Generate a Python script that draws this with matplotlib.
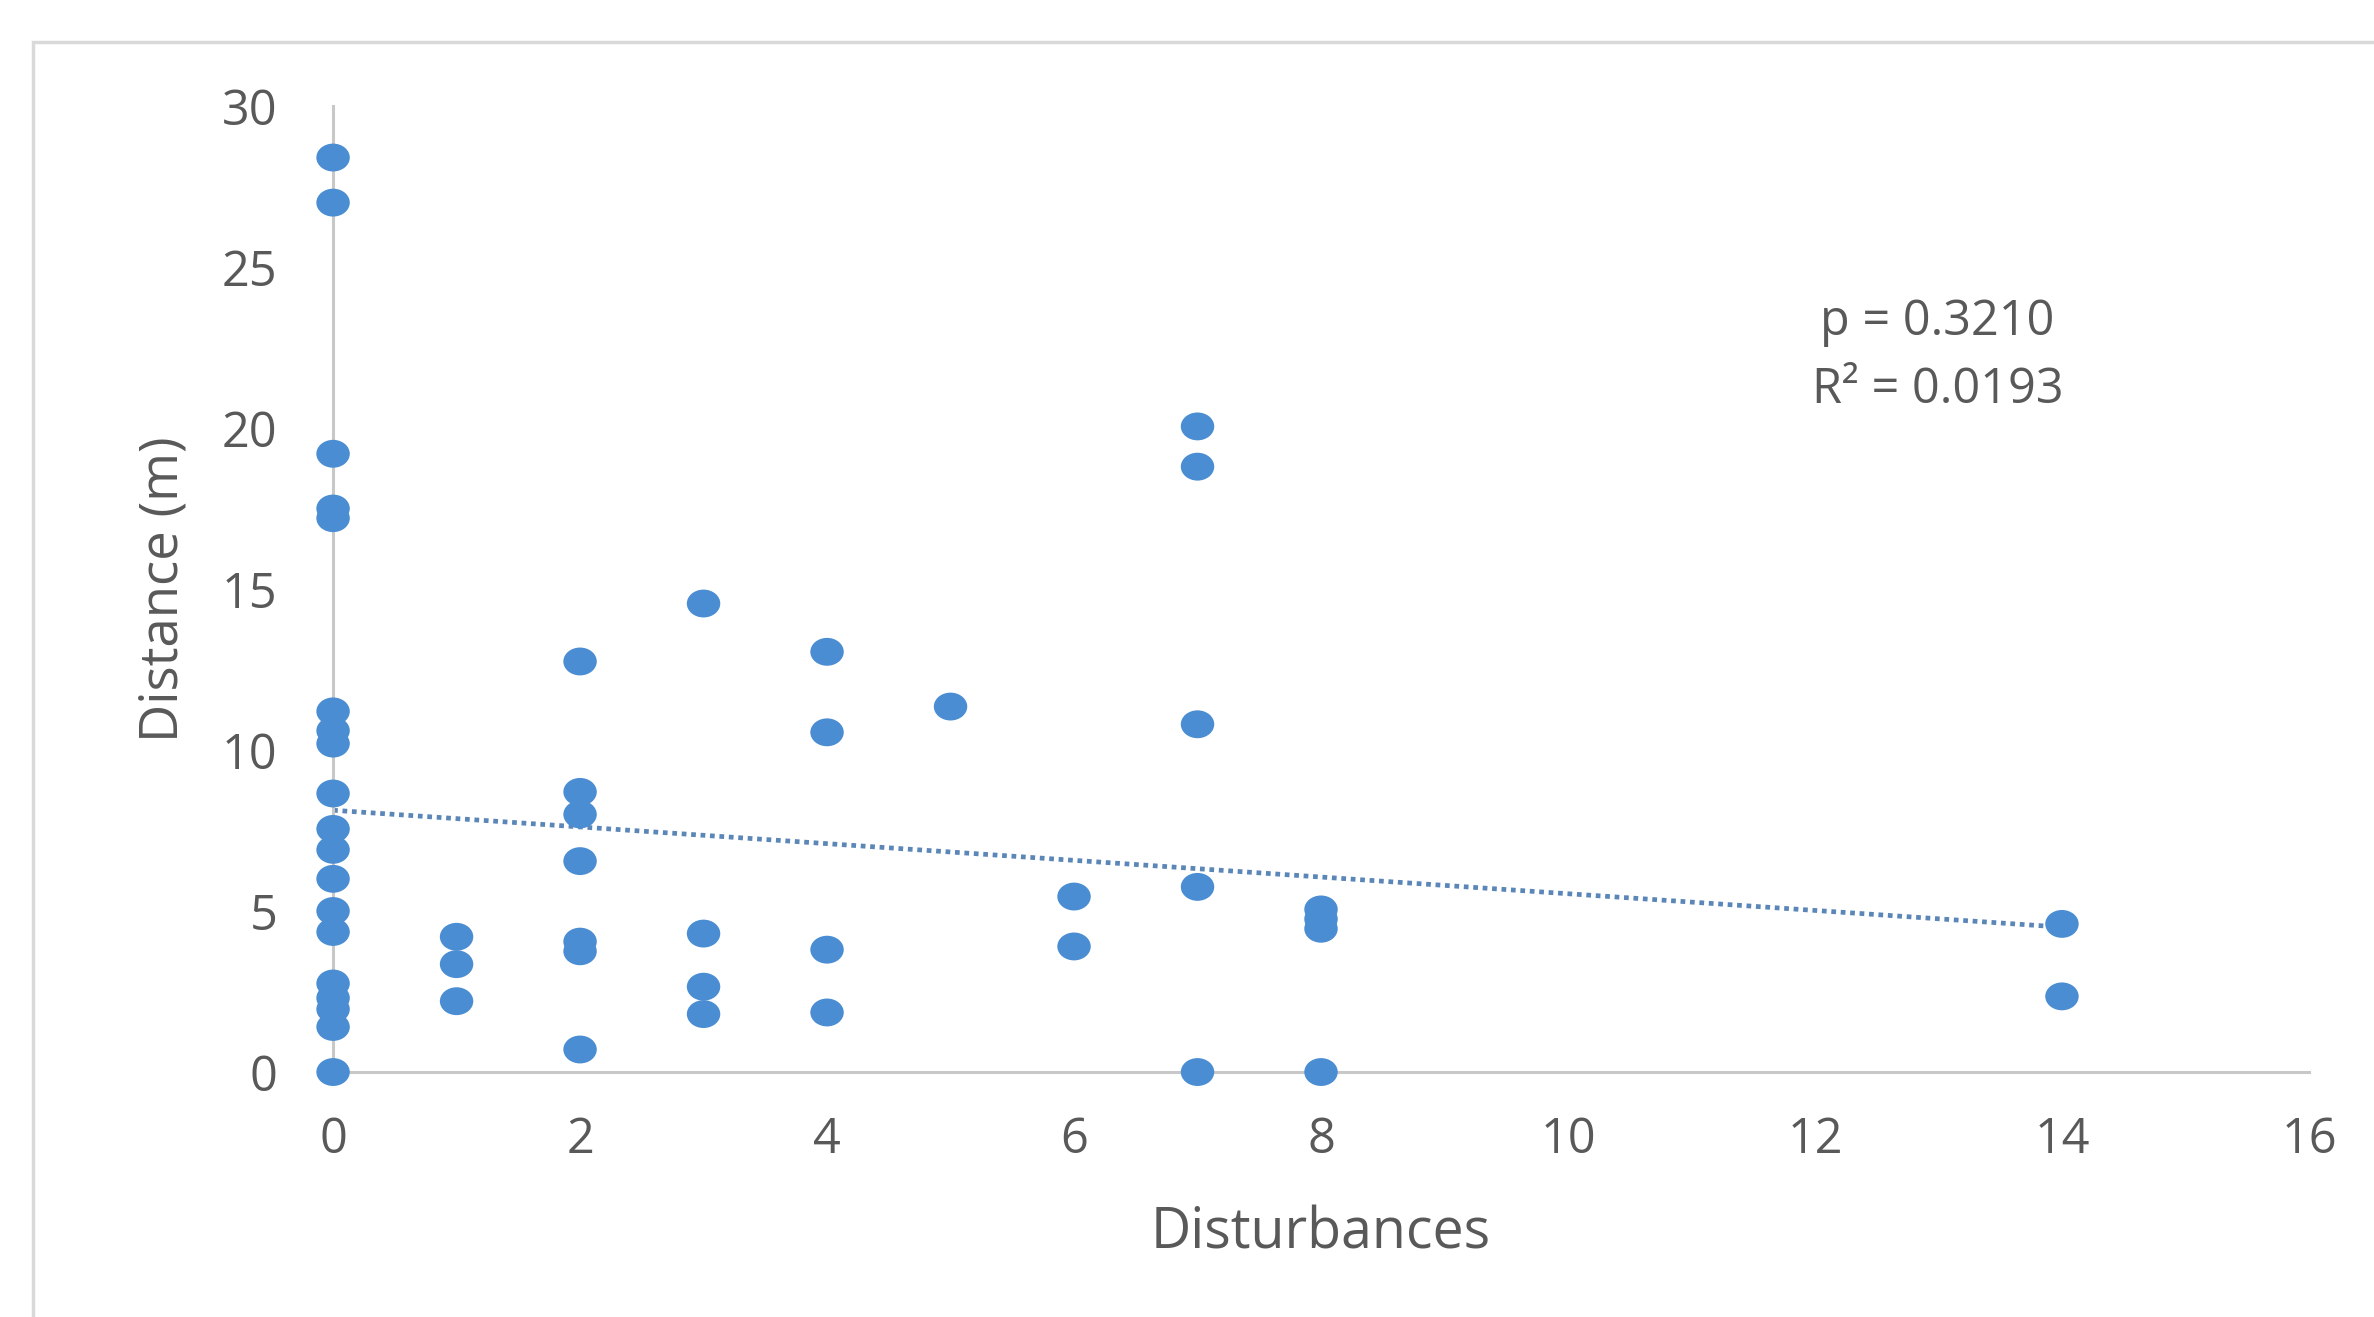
import numpy as np
import matplotlib
matplotlib.use('Agg')
import matplotlib.pyplot as plt
from matplotlib.path import Path
from matplotlib.transforms import Affine2D
from matplotlib.patches import Rectangle

# values
disturb_0 = [28.4, 27.0, 19.2, 17.5, 17.2, 11.2, 10.6, 10.2, 8.65, 7.55, 6.9, 6.0, 5.0, 4.35,
             2.75, 2.3, 1.95, 1.4, 0.0]
disturb_1 = [4.2, 3.35, 2.2]
disturb_2 = [12.75, 8.7, 8.0, 6.55, 4.05, 3.75, 0.7]
disturb_3 = [14.55, 4.3, 2.65, 1.8]
disturb_4 = [13.05, 10.55, 3.8, 1.85]
disturb_5 = [11.35]
disturb_6 = [5.45, 3.9]
disturb_7 = [20.05, 18.8, 10.8, 5.75, 0.0]
disturb_8 = [5.05, 4.75, 4.45, 0.0]
disturb_14 = [4.6, 2.35]

groups = {0: disturb_0, 1: disturb_1, 2: disturb_2, 3: disturb_3, 4: disturb_4,
          5: disturb_5, 6: disturb_6, 7: disturb_7, 8: disturb_8, 14: disturb_14}

x = []
y = []
for k in groups:
    for v in groups[k]:
        x.append(k)
        y.append(v)
x = np.array(x, dtype=float)
y = np.array(y)

# trend line as shown
trend_x = [0, 14]
trend_y = [8.13, 4.5]

x_ticks = list(range(0, 17, 2))
y_ticks = list(range(0, 31, 5))

plt.rcParams['font.family'] = ['Open Sans', 'DejaVu Sans']
grey = '#595959'
blue = '#4a8dd2'

fig = plt.figure(figsize=(23.74, 13.17), dpi=100)
fig.patches.append(Rectangle((0.0139, -0.1), 1.2, 1.068, transform=fig.transFigure,
                             fill=False, edgecolor='#d9d9d9', linewidth=2.5))
ax = fig.add_axes([0.1403, 0.186, 0.8323, 0.7335])

ellipse = Path.unit_circle().transformed(Affine2D().scale(1.2, 1.0))
ax.plot(trend_x, trend_y, linestyle=(0, (1, 1.0)), color='#5b86b8', linewidth=3.4, zorder=2)
ax.scatter(x, y, marker=ellipse, s=580, color=blue, edgecolors='none', zorder=3, clip_on=False)

ax.set_xlim(0, 16)
ax.set_ylim(0, 30)
ax.set_xticks(x_ticks)
ax.set_yticks(y_ticks)
ax.tick_params(length=0, labelsize=35, labelcolor=grey)
ax.tick_params(axis='y', pad=40)
ax.tick_params(axis='x', pad=31)

for s in ['top', 'right']:
    ax.spines[s].set_visible(False)
for s in ['left', 'bottom']:
    ax.spines[s].set_color('#c8c8c8')
    ax.spines[s].set_linewidth(2.2)

ax.set_xlabel('Disturbances', fontsize=40, color=grey, va='center')
ax.set_ylabel('Distance (m)', fontsize=38, color=grey, va='center')
ax.xaxis.set_label_coords(0.5, -0.168)
ax.yaxis.set_label_coords(-0.0855, 0.5)

ax.text(0.812, 0.776, 'p = 0.3210', transform=ax.transAxes, ha='center', va='center',
        fontsize=35, color=grey)
ax.text(0.812, 0.706, 'R² = 0.0193', transform=ax.transAxes, ha='center', va='center',
        fontsize=35, color=grey)

fig.savefig('out.png', dpi=100)
